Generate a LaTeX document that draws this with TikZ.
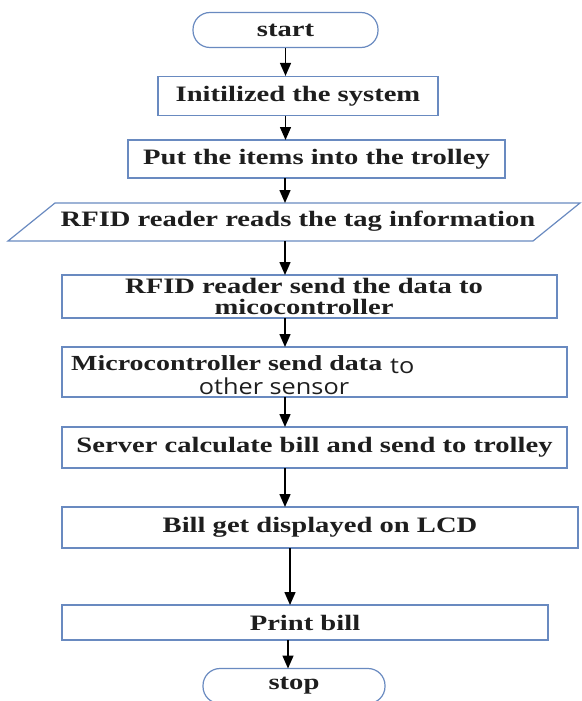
\documentclass[tikz,border=0pt]{standalone}
\usepackage{fontspec}
\newfontfamily\bsf{Liberation Serif Bold}[FakeStretch=1.3]
\newfontfamily\sensfont{Open Sans}[FakeStretch=1.15]
\usetikzlibrary{arrows.meta}
\definecolor{boxblue}{RGB}{105,138,192}
\definecolor{txt}{RGB}{30,30,30}
\tikzset{
  px/.style={x=1pt,y=-1pt},
  box/.style={draw=boxblue,line width=1.2pt,inner sep=0pt,font=\bsf\fontsize{22}{20}\selectfont,text=txt},
  term/.style={box,rounded corners=17pt},
  arr/.style={draw=black,line width=1.5pt,-{Triangle[length=13pt,width=11pt]}},
  lbl/.style={inner sep=0pt,font=\bsf\fontsize{22}{20}\selectfont,text=txt},
  sens/.style={inner sep=0pt,font=\sensfont\fontsize{22}{20}\selectfont,text=txt},
}
\begin{document}
\begin{tikzpicture}[px]
\useasboundingbox (0,0) rectangle (581,701);
\node[term,minimum width=185pt,minimum height=35pt] (start) at (285.5,30) {start};
\node[box,minimum width=280pt,minimum height=39pt] (init) at (298,96) {Initilized the system};
\node[box,minimum width=377pt,minimum height=38pt] (put) at (316.5,159) {Put the items into the trolley};
\node[lbl] (rfid) at (298,221) {RFID reader reads the tag information};
\draw[boxblue,line width=1.2pt] (55,203) -- (580,203) -- (533,241) -- (8,241) -- cycle;
\coordinate (rfidtop) at (285,203);
\coordinate (rfidbot) at (285,241);
\node[box,minimum width=495pt,minimum height=43pt] (send) at (309.5,296.5) {};
\node[lbl] (senda) at (304,286) {RFID reader send the data to};
\node[lbl] (sendb) at (304,307) {micocontroller};
\node[box,minimum width=505pt,minimum height=50pt] (micro) at (314.5,372) {};
\node[lbl,anchor=west,font=\bsf\fontsize{21.5}{20}\selectfont] (microa) at (71,363.5) {Microcontroller send data};
\node[sens,anchor=west] (microb) at (390,366) {to};
\node[sens] (microc) at (274,386) {other sensor};
\node[box,minimum width=505pt,minimum height=41pt] (server) at (314.5,447.5) {Server calculate bill and send to trolley};
\node[box,minimum width=516pt,minimum height=41pt] (bill) at (320,527.5) {Bill get displayed on LCD};
\node[box,minimum width=486pt,minimum height=35pt] (print) at (305,622.5) {Print bill};
\node[term,minimum width=182pt,minimum height=35pt] (stop) at (294,686) {stop};
\draw[arr] (start.south) -- (start.south |- init.north);
\draw[arr] (285.5,115.5) -- (285.5,140);
\draw[arr] (285,178) -- (rfidtop);
\draw[arr] (rfidbot) -- (285,275);
\draw[arr] (285,318) -- (285,347);
\draw[arr] (285,397) -- (285,427);
\draw[arr] (285,468) -- (285,507);
\draw[arr] (290,548) -- (290,605);
\draw[arr] (288,640) -- (288,668.5);
\end{tikzpicture}
\end{document}
